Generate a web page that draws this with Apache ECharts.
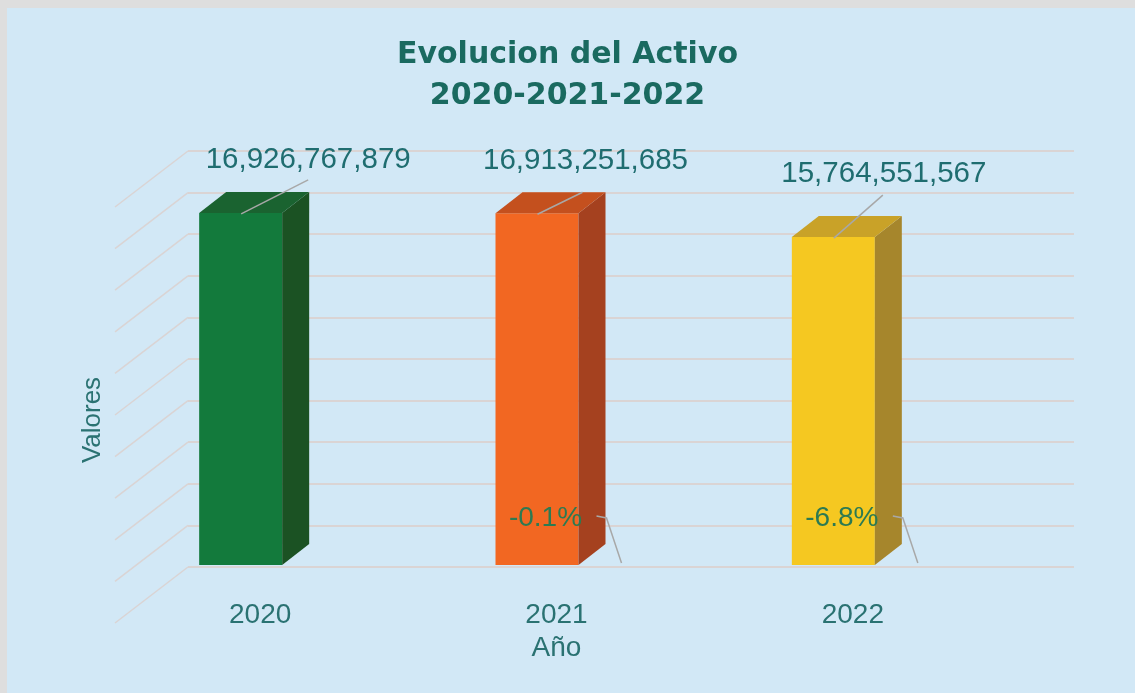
<!DOCTYPE html>
<html>
<head>
<meta charset="utf-8">
<title>Evolucion del Activo</title>
<script src="https://cdn.jsdelivr.net/npm/echarts@6/dist/echarts.min.js"></script>
<style>
  html, body { margin: 0; padding: 0; background: #d2e8f6; }
  #chart { width: 1135px; height: 693px; }
</style>
</head>
<body>
<div id="chart"></div>
<script>
// datos
const categorias = ['2020', '2021', '2022']
const valores = [16926767879, 16913251685, 15764551567]
const variacion = [null, -0.1, -6.8]          // % respecto al año anterior
const ticksY = [0, 2e9, 4e9, 6e9, 8e9, 10e9, 12e9, 14e9, 16e9, 18e9, 20e9]

// estilos de las barras 3D (frente, lado, tapa)
const coloresFrente = ['#137a3c', '#f26722', '#f5c821']
const coloresLado = ['#1b5223', '#a5411f', '#a6862c']
const coloresTapa = ['#1a6330', '#c4501e', '#c9a228']
// desplazamiento de cada etiqueta de valor respecto a la barra
const offEtiqueta = [[48, -53], [29, -52], [31, -63]]
const offGuia = [[48, -33], [26, -21], [30, -42]]

const fuente = 'Liberation Sans, Arial, sans-serif'
const colorTexto = '#2a7272'
const prof = { dx: 27, dy: -21 }

const chart = echarts.init(document.getElementById('chart'))

function barra3D(params, api) {
  const i = api.value(0)
  const v = api.value(1)
  const top = api.coord([i, v])
  const base = api.coord([i, 0])
  const c = top[0]
  const x0 = c - 61, x1 = c + 22
  const yt = top[1], yb = base[1]
  const lbl = offEtiqueta[i], gd = offGuia[i]
  return {
    type: 'group',
    children: [
      { type: 'rect', shape: { x: x0, y: yt, width: x1 - x0, height: yb - yt }, style: { fill: coloresFrente[i] } },
      { type: 'polygon', shape: { points: [[x1, yt], [x1 + prof.dx, yt + prof.dy], [x1 + prof.dx, yb + prof.dy], [x1, yb]] }, style: { fill: coloresLado[i] } },
      { type: 'polygon', shape: { points: [[x0, yt], [x0 + prof.dx, yt + prof.dy], [x1 + prof.dx, yt + prof.dy], [x1, yt]] }, style: { fill: coloresTapa[i] } },
      { type: 'polyline', shape: { points: [[c + gd[0], yt + gd[1]], [c - 19, yt + 1]] }, style: { stroke: '#a8a8a8', lineWidth: 1.5, fill: null } },
      { type: 'text', x: c + lbl[0], y: yt + lbl[1], style: { text: v.toLocaleString('en-US'), font: '29.5px ' + fuente, fill: '#1f6d70', align: 'center', verticalAlign: 'middle' } }
    ]
  }
}

function etiquetaPct(params, api) {
  const i = api.value(0)
  const v = api.value(1)
  if (isNaN(v)) return
  const p = api.coord([i, 0])
  const c = p[0], yb = p[1]
  return {
    type: 'group',
    children: [
      { type: 'polyline', shape: { points: [[c + 40, yb - 49], [c + 50, yb - 47], [c + 65, yb - 2]] }, style: { stroke: '#a8a8a8', lineWidth: 1.5, fill: null } },
      { type: 'text', x: c - 11, y: yb - 47, style: { text: v.toFixed(1) + '%', font: '28px ' + fuente, fill: '#2c7a52', align: 'center', verticalAlign: 'middle' } }
    ]
  }
}

function diagonal(params, api) {
  const p = api.coord([0, api.value(1)])
  return {
    type: 'line',
    shape: { x1: p[0], y1: p[1], x2: p[0] - 73, y2: p[1] + 56 },
    style: { stroke: '#dad4d4', lineWidth: 1.5 }
  }
}

const option = {
  backgroundColor: '#d2e8f6',
  animation: false,
  title: {
    text: 'Evolucion del Activo\n2020-2021-2022',
    left: 'center', top: 30,
    textStyle: { fontFamily: 'DejaVu Sans, sans-serif', fontSize: 30, fontWeight: 'bold', color: '#1a6a60', lineHeight: 41 }
  },
  graphic: [
    { type: 'rect', shape: { x: 0, y: 0, width: 1135, height: 8 }, style: { fill: '#dedede' } },
    { type: 'rect', shape: { x: 0, y: 0, width: 7, height: 693 }, style: { fill: '#dedede' } },
    { type: 'text', x: 93, y: 420, rotation: Math.PI / 2,
      style: { text: 'Valores', font: '26px ' + fuente, fill: colorTexto, align: 'center', verticalAlign: 'middle' } }
  ],
  grid: [
    { left: 188, right: 61, top: 151, bottom: 126 },   // pared del fondo
    { left: 112, right: 134, top: 149, bottom: 128 }   // plano de las barras
  ],
  xAxis: [
    { gridIndex: 0, type: 'value', min: 0, max: 1, show: false },
    {
      gridIndex: 1, type: 'category', data: categorias,
      axisLine: { show: false }, axisTick: { show: false },
      axisLabel: { margin: 36, fontFamily: fuente, fontSize: 28, color: colorTexto },
      name: 'Año', nameLocation: 'middle', nameGap: 69,
      nameTextStyle: { fontFamily: fuente, fontSize: 28, color: colorTexto }
    }
  ],
  yAxis: [
    {
      gridIndex: 0, type: 'value', min: 0, max: 20e9, interval: 2e9,
      axisLine: { show: false }, axisTick: { show: false }, axisLabel: { show: false },
      splitLine: { lineStyle: { color: '#dad4d4', width: 2 } }
    },
    { gridIndex: 1, type: 'value', min: 0, max: 20e9, interval: 2e9, show: false, splitLine: { show: false } }
  ],
  series: [
    { type: 'custom', xAxisIndex: 0, yAxisIndex: 0, renderItem: diagonal, data: ticksY.map(t => [0, t]), z: 1 },
    { type: 'custom', xAxisIndex: 1, yAxisIndex: 1, renderItem: barra3D, data: valores.map((v, i) => [i, v]), z: 2 },
    { type: 'custom', xAxisIndex: 1, yAxisIndex: 1, renderItem: etiquetaPct, data: variacion.map((v, i) => [i, v == null ? NaN : v]), z: 3 }
  ]
}

chart.setOption(option)
window.addEventListener('resize', () => chart.resize())
</script>
</body>
</html>
